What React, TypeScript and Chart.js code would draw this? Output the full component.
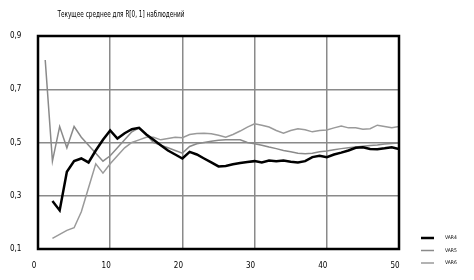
import React, { useEffect, useRef } from "react";
import { Chart, registerables } from "chart.js";

Chart.register(...registerables);

const TITLE = "Текущее среднее для R[0, 1] наблюдений";
const SERIES_LABELS = ["VAR4", "VAR5", "VAR6"];
const STEPS = [
  1, 2, 3, 4, 5, 6, 7, 8, 9, 10, 11, 12, 13, 14, 15, 16, 17, 18, 19, 20, 21, 22, 23, 24, 25,
  26, 27, 28, 29, 30, 31, 32, 33, 34, 35, 36, 37, 38, 39, 40, 41, 42, 43, 44, 45, 46, 47, 48, 49, 50,
];
const VAR4 = [
  null, 0.28, 0.245, 0.39, 0.43, 0.44, 0.425, 0.47, 0.51, 0.545, 0.515, 0.535, 0.55, 0.555, 0.53,
  0.51, 0.49, 0.47, 0.455, 0.44, 0.465, 0.455, 0.44, 0.425, 0.41, 0.412, 0.418, 0.423, 0.427, 0.43,
  0.425, 0.432, 0.43, 0.432, 0.428, 0.425, 0.43, 0.445, 0.45, 0.445, 0.455, 0.462, 0.47, 0.48, 0.482,
  0.476, 0.475, 0.478, 0.482, 0.475,
];
const VAR5 = [
  0.81, 0.43, 0.56, 0.48, 0.56, 0.52, 0.49, 0.46, 0.43, 0.45, 0.48, 0.51, 0.54, 0.555, 0.53,
  0.5, 0.49, 0.48, 0.47, 0.46, 0.485, 0.495, 0.5, 0.505, 0.508, 0.51, 0.51, 0.51, 0.5, 0.495,
  0.49, 0.483, 0.477, 0.47, 0.465, 0.46, 0.458, 0.46, 0.465, 0.468, 0.473, 0.477, 0.48, 0.483, 0.486,
  0.489, 0.491, 0.494, 0.496, 0.498,
];
const VAR6 = [
  null, 0.14, 0.155, 0.17, 0.18, 0.24, 0.33, 0.42, 0.385, 0.42, 0.45, 0.48, 0.5, 0.51, 0.52,
  0.52, 0.51, 0.515, 0.52, 0.518, 0.53, 0.534, 0.535, 0.533, 0.527, 0.52, 0.53, 0.543, 0.558, 0.57,
  0.565, 0.558, 0.545, 0.535, 0.545, 0.552, 0.548, 0.54, 0.545, 0.547, 0.555, 0.562, 0.555, 0.555, 0.55,
  0.552, 0.565, 0.56, 0.555, 0.56,
];
const Y_MIN = 0.1;
const Y_MAX = 0.9;
const Y_STEP = 0.2;
const X_MIN = 0;
const X_MAX = 50;
const X_STEP = 10;

const FONT = "'Liberation Sans Narrow', 'DejaVu Sans Condensed', 'Liberation Sans', sans-serif";
const COLORS = ["#000000", "#8a8a8a", "#9a9a9a"];
const WIDTHS = [2.5, 1.5, 1.5];

const toPoints = (vals: (number | null)[]) => STEPS.map((s, i) => ({ x: s, y: vals[i] }));

const overlay = {
  id: "overlay",
  afterDraw(chart: any) {
    const { ctx, chartArea: a } = chart;
    ctx.save();
    ctx.strokeStyle = "#000";
    ctx.lineWidth = 2.5;
    ctx.strokeRect(a.left, a.top, a.right - a.left, a.bottom - a.top);
    ctx.fillStyle = "#000";
    ctx.font = `8px ${FONT}`;
    ctx.textAlign = "center";
    ctx.textBaseline = "middle";
    const w = ctx.measureText(TITLE).width;
    const sx = Math.min(1, 127 / w);
    ctx.save();
    ctx.translate(121, 15);
    ctx.scale(sx, 1.05);
    ctx.fillText(TITLE, 0, 0);
    ctx.restore();
    ctx.font = `5px ${FONT}`;
    ctx.textAlign = "left";
    chart.data.datasets.forEach((ds: any, i: number) => {
      const y = 238 + i * 12.5;
      ctx.strokeStyle = ds.borderColor;
      ctx.lineWidth = ds.borderWidth;
      ctx.beginPath();
      ctx.moveTo(421, y);
      ctx.lineTo(434, y);
      ctx.stroke();
      ctx.fillStyle = "#000";
      ctx.fillText(ds.label, 445, y);
    });
    ctx.restore();
  },
};

export default function App() {
  const ref = useRef<HTMLCanvasElement | null>(null);
  useEffect(() => {
    if (!ref.current) return;
    const series = [VAR4, VAR5, VAR6];
    const chart = new Chart(ref.current, {
      type: "line",
      data: {
        datasets: series.map((vals, i) => ({
          label: SERIES_LABELS[i],
          data: toPoints(vals),
          borderColor: COLORS[i],
          backgroundColor: COLORS[i],
          borderWidth: WIDTHS[i],
          pointRadius: 0,
          tension: 0,
          spanGaps: false,
        })),
      },
      options: {
        responsive: false,
        animation: false,
        layout: { padding: { top: 36, right: 75, left: 10, bottom: 0 } },
        plugins: { legend: { display: false }, title: { display: false }, tooltip: { enabled: false } },
        scales: {
          x: {
            type: "linear",
            min: X_MIN,
            max: X_MAX,
            afterFit: (s: any) => {
              s.height = 31;
            },
            ticks: {
              stepSize: X_STEP,
              padding: 12,
              labelOffset: -4,
              color: "#000",
              font: { family: FONT, size: 8 },
              callback: (v: any) => String(v),
            },
            grid: { color: "#8a8a8a", lineWidth: 1.5, drawTicks: false },
            border: { display: false },
          },
          y: {
            min: Y_MIN,
            max: Y_MAX,
            afterFit: (s: any) => {
              s.width = 28;
            },
            ticks: {
              stepSize: Y_STEP,
              crossAlign: "far",
              color: "#000",
              font: { family: FONT, size: 8 },
              callback: (v: any) => Number(v).toFixed(1).replace(".", ","),
            },
            grid: { color: "#8a8a8a", lineWidth: 1.5, drawTicks: false },
            border: { display: false },
          },
        },
      },
      plugins: [overlay],
    });
    return () => chart.destroy();
  }, []);
  return (
    <div style={{ position: "fixed", left: 0, top: 0, width: 474, height: 280, background: "#fff" }}>
      <canvas ref={ref} width={474} height={280} style={{ display: "block" }} />
    </div>
  );
}
